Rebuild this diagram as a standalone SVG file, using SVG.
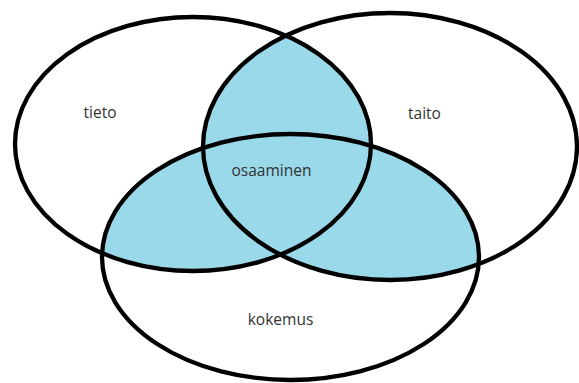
<svg xmlns="http://www.w3.org/2000/svg" width="579" height="383" viewBox="0 0 579 383">
  <style>
    .ring { fill: none; stroke: #000; stroke-width: 4.3; }
    .shade { fill: #99D9EA; stroke: none; }
    .label { font-family: "Open Sans", "Liberation Sans", sans-serif; font-size: 15.5px; fill: #333; text-anchor: middle; }
  </style>
  <defs>
    <clipPath id="clipRight"><ellipse cx="390" cy="146.5" rx="187" ry="133.5"/></clipPath>
    <clipPath id="clipBottom"><ellipse cx="290.5" cy="257" rx="188.5" ry="123"/></clipPath>
  </defs>
  <rect width="579" height="383" fill="#fff"/>
  <g id="overlaps">
    <ellipse class="shade" cx="193" cy="144" rx="178" ry="127" clip-path="url(#clipRight)"/>
    <ellipse class="shade" cx="193" cy="144" rx="178" ry="127" clip-path="url(#clipBottom)"/>
    <ellipse class="shade" cx="390" cy="146.5" rx="187" ry="133.5" clip-path="url(#clipBottom)"/>
  </g>
  <g id="tieto">
    <ellipse class="ring" cx="193" cy="144" rx="178" ry="127"/>
    <text class="label" x="100" y="118">tieto</text>
  </g>
  <g id="taito">
    <ellipse class="ring" cx="390" cy="146.5" rx="187" ry="133.5"/>
    <text class="label" x="424.5" y="119">taito</text>
  </g>
  <g id="kokemus">
    <ellipse class="ring" cx="290.5" cy="257" rx="188.5" ry="123"/>
    <text class="label" x="280.5" y="325">kokemus</text>
  </g>
  <g id="osaaminen">
    <text class="label" x="271.5" y="176">osaaminen</text>
  </g>
  <g id="connectors"/>
</svg>
